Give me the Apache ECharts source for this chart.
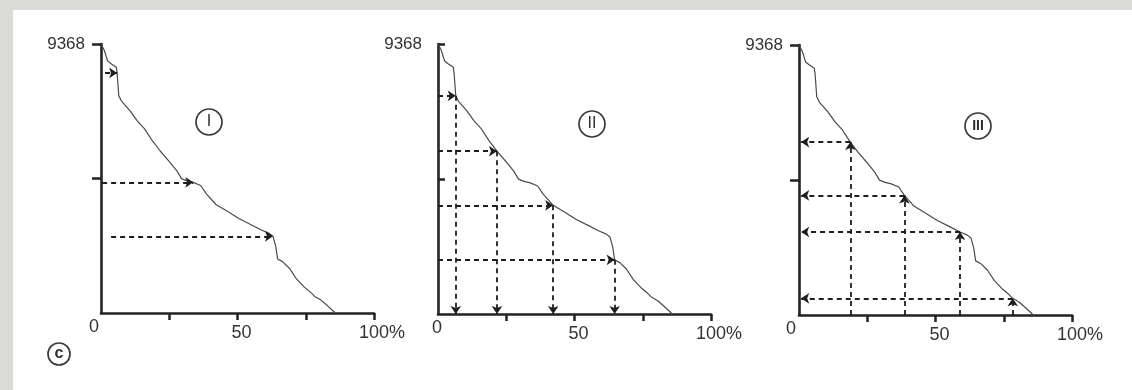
<!DOCTYPE html>
<html>
<head>
<meta charset="utf-8">
<script src="https://cdn.jsdelivr.net/npm/echarts@6/dist/echarts.min.js"></script>
<style>
html,body{margin:0;padding:0;background:#fff;}
#c{width:1132px;height:390px;}
</style>
</head>
<body>
<div id="c"></div>
<script>
// ---- data ----
const yMax = 9368;
const yTickValues = [4684, 9368];
const xTickValues = [25, 50, 75, 100];
const xLabelValues = [0, 50, 100];
// shared descending curve: percent of area (x) vs value (y)
const curvePct = [0, 1.2, 2.4, 3.7, 5.6, 5.9, 6.5, 7.5, 10.6, 13.2, 15.9, 18.8, 21.6, 24.8, 27.8, 29.5, 31.5, 33.8, 36.5, 38.6, 42.2, 46.0, 50.5, 55.5, 59.0, 61.5, 63.0, 64.0, 64.7, 66.5, 69.0, 71.5, 74.5, 77.0, 78.3, 80.6, 83.0, 85.8];
const curveVal = [9368, 9150, 8780, 8680, 8560, 8360, 7570, 7380, 7050, 6700, 6420, 6000, 5650, 5300, 4950, 4680, 4600, 4550, 4440, 4150, 3770, 3560, 3290, 3050, 2880, 2780, 2670, 2330, 1879, 1790, 1560, 1200, 900, 700, 578, 450, 250, 0];
// panel I: dashed arrows from the y axis to the curve
const p1From = [[1.5, 8360], [0.4, 4550], [3.7, 2670]];
const p1To   = [[5.9, 8360], [33.8, 4550], [63.0, 2670]];
// panel II: points reached from the y axis, then dropped to the x axis
const p2Points = [[6.5, 7570], [21.6, 5650], [42.2, 3770], [64.7, 1879]];
// panel III: points reached from the x axis, then carried to the y axis
const p3Points = [[18.8, 6000], [38.6, 4150], [59.0, 2880], [78.3, 578]];
const panelNames = ['I', 'II', 'III'];

// ---- build chart ----
const FONT = 'Liberation Sans';
const TXT = '#333333';
const AX = '#222222';
const grids = [
  {left: 101, top: 44, width: 273, height: 269},
  {left: 438, top: 44, width: 273, height: 270},
  {left: 799, top: 45, width: 273, height: 270}
];
const zeroShift = [14, 2, 16];

function xAxis(i) {
  return {
    type: 'value', gridIndex: i, min: 0, max: 100, interval: 25,
    splitLine: {show: false},
    axisLine: {show: true, lineStyle: {color: AX, width: 2.6}},
    axisTick: {show: true, inside: false, length: 7, lineStyle: {color: AX, width: 2.5}, customValues: xTickValues},
    axisLabel: {
      show: true, margin: 5, customValues: xLabelValues,
      formatter: function (v) {
        if (v === 0) return '{z|0}';
        if (v === 50) return '{f|50}';
        if (v === 100) return '{h|100%}';
        return '';
      },
      rich: {
        z: {fontFamily: FONT, fontSize: 18, lineHeight: 18, color: TXT, padding: [0, zeroShift[i], 0, 0]},
        f: {fontFamily: FONT, fontSize: 18, lineHeight: 18, color: TXT, padding: [13, 0, 0, 8]},
        h: {fontFamily: FONT, fontSize: 18, lineHeight: 18, color: TXT, padding: [13, 0, 0, 16]}
      }
    }
  };
}
function yAxis(i) {
  return {
    type: 'value', gridIndex: i, min: 0, max: yMax, interval: yMax / 2,
    splitLine: {show: false},
    axisLine: {show: true, lineStyle: {color: AX, width: 2.6}},
    axisTick: {show: true, inside: i === 1, length: i === 1 ? 7 : 9, lineStyle: {color: AX, width: 2.5}, customValues: yTickValues},
    axisLabel: {
      show: true, margin: 16, customValues: [yMax],
      fontFamily: FONT, fontSize: 17, color: TXT,
      formatter: function (v) { return v === yMax ? String(yMax) : ''; }
    }
  };
}

const curveData = curvePct.map((p, k) => [p, curveVal[k]]);
const series = [];
for (let i = 0; i < 3; i++) {
  series.push({
    type: 'line', xAxisIndex: i, yAxisIndex: i, data: curveData,
    symbol: 'none', smooth: false, silent: true, z: 3,
    lineStyle: {color: '#4a4a4a', width: 1.2}
  });
}
function arrows(i, segs) {
  return {
    type: 'lines', coordinateSystem: 'cartesian2d', xAxisIndex: i, yAxisIndex: i,
    polyline: false, silent: true, z: 4,
    symbol: ['none', 'arrow'], symbolSize: 8,
    lineStyle: {color: '#1e1e1e', width: 1.8, type: [5, 4], opacity: 1},
    data: segs.map(s => ({coords: s}))
  };
}
series.push(arrows(0, p1From.map((f, k) => [f, p1To[k]])));
series.push(arrows(1, p2Points.map(p => [[0, p[1]], p])));
series.push(arrows(1, p2Points.map(p => [p, [p[0], 0]])));
series.push(arrows(2, p3Points.map(p => [[p[0], 0], p])));
series.push(arrows(2, p3Points.map(p => [p, [0.8, p[1]]])));

function circled(cx, cy, r, text, fontSize, bold) {
  return {
    type: 'group', silent: true,
    children: [
      {type: 'circle', shape: {cx: cx, cy: cy, r: r}, style: {fill: 'none', stroke: '#3a3a3a', lineWidth: 1.7}},
      {type: 'text', x: cx, y: cy, style: {text: text, fill: '#2e2e2e', fontFamily: FONT, fontSize: fontSize,
        fontWeight: bold ? 'bold' : 'normal', align: 'center', verticalAlign: 'middle',
        textAlign: 'center', textVerticalAlign: 'middle'}}
    ]
  };
}

const option = {
  backgroundColor: '#ffffff',
  animation: false,
  grid: grids,
  xAxis: [0, 1, 2].map(xAxis),
  yAxis: [0, 1, 2].map(yAxis),
  series: series,
  graphic: [
    {type: 'rect', silent: true, z: -10, shape: {x: 0, y: 0, width: 1132, height: 10}, style: {fill: '#dadbd6'}},
    {type: 'rect', silent: true, z: -10, shape: {x: 0, y: 0, width: 13, height: 390}, style: {fill: '#dadbd6'}},
    circled(209, 122, 13, panelNames[0], 16, false),
    circled(592, 124, 13, panelNames[1], 16, false),
    circled(978, 126, 13, panelNames[2], 14, true),
    circled(59, 354, 11, 'c', 16, true)
  ]
};
const chart = echarts.init(document.getElementById('c'), null, {renderer: 'canvas'});
chart.setOption(option);
</script>
</body>
</html>
